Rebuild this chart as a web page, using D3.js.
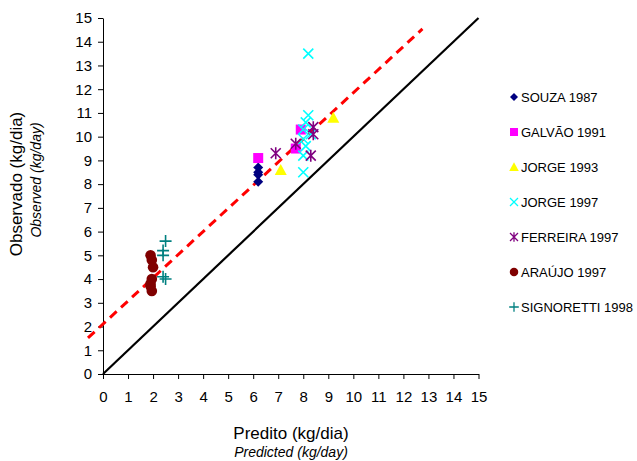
<!DOCTYPE html>
<html>
<head>
<meta charset="utf-8">
<script src="https://cdn.jsdelivr.net/npm/d3@7"></script>
<style>
  body { margin: 0; background: #fff; }
  text { font-family: "Liberation Sans", Arial, sans-serif; }
</style>
</head>
<body>
<div id="root"></div>
<script>
const width = 637, height = 461;
const margin = {top: 18, right: 159, bottom: 87, left: 103};

const ticks = d3.range(0, 16);

// series (x = predicted, y = observed)
const souzaX = [6.2, 6.2, 6.2, 6.2];
const souzaY = [8.1, 8.4, 8.5, 8.7];
const galvaoX = [6.2, 7.9, 7.7];
const galvaoY = [9.1, 10.3, 9.5];
const jorge93X = [7.1, 9.2];
const jorge93Y = [8.6, 10.8];
const jorge97X = [8.2, 8.2, 8.1, 8.0, 8.3, 8.0, 8.1, 8.0, 8.0];
const jorge97Y = [13.5, 10.9, 10.6, 10.3, 10.1, 9.9, 9.6, 9.2, 8.5];
const ferreiraX = [6.9, 7.7, 8.4, 8.4, 8.3];
const ferreiraY = [9.3, 9.7, 10.4, 10.1, 9.2];
const araujoX = [1.9, 1.95, 2.0, 1.95, 1.9, 1.9, 1.95];
const araujoY = [5.0, 4.8, 4.5, 4.0, 3.8, 3.7, 3.5];
const signorettiX = [2.5, 2.4, 2.4, 2.4, 2.5];
const signorettiY = [5.6, 5.2, 5.0, 4.1, 4.0];

const seriesNames = ["SOUZA 1987", "GALVÃO 1991", "JORGE 1993", "JORGE 1997", "FERREIRA 1997", "ARAÚJO 1997", "SIGNORETTI 1998"];
const seriesColors = ["#000080", "#FF00FF", "#FFFF00", "#00FFFF", "#800080", "#800000", "#008080"];
const seriesShapes = ["diamond", "square", "triangle", "x", "star", "circle", "plus"];
const seriesX = [souzaX, galvaoX, jorge93X, jorge97X, ferreiraX, araujoX, signorettiX];
const seriesY = [souzaY, galvaoY, jorge93Y, jorge97Y, ferreiraY, araujoY, signorettiY];

// regression line (dashed) endpoints and 1:1 line
const regX = [-0.6, 12.76];
const regY = [1.52, 14.54];
const oneX = [0, 15];
const oneY = [0, 15];

const svg = d3.select('#root').append('svg')
  .attr('width', width).attr('height', height);

const x = d3.scaleLinear().domain([0, 15]).range([margin.left, width - margin.right + 0.5]);
const y = d3.scaleLinear().domain([0, 15]).range([height - margin.bottom, margin.top]);

const xAxis = svg.append('g')
  .attr('transform', `translate(0,${y(0)})`)
  .call(d3.axisBottom(x).tickValues(ticks).tickSize(5).tickSizeOuter(0).tickPadding(12));
const yAxis = svg.append('g')
  .attr('transform', `translate(${x(0)},0)`)
  .call(d3.axisLeft(y).tickValues(ticks).tickSize(5).tickSizeOuter(0).tickPadding(6));
[xAxis, yAxis].forEach(g => {
  g.selectAll('path,line').attr('stroke', '#000').attr('stroke-width', 1);
  g.selectAll('text').attr('font-size', 15).attr('fill', '#000')
    .attr('font-family', '"Liberation Sans", Arial, sans-serif');
});

const line = d3.line().x(d => x(d[0])).y(d => y(d[1]));
svg.append('path').datum(d3.zip(oneX, oneY)).attr('d', line)
  .attr('stroke', '#000').attr('stroke-width', 2.2).attr('fill', 'none');
svg.append('path').datum(d3.zip(regX, regY)).attr('d', line)
  .attr('stroke', '#FF0000').attr('stroke-width', 3).attr('fill', 'none')
  .attr('stroke-dasharray', '9,6');

function drawMarker(g, shape, color) {
  if (shape === 'diamond') {
    g.append('path').attr('d', 'M0,-5L5,0L0,5L-5,0Z').attr('fill', color);
  } else if (shape === 'square') {
    g.append('rect').attr('x', -5).attr('y', -5).attr('width', 10).attr('height', 10).attr('fill', color);
  } else if (shape === 'triangle') {
    g.append('path').attr('d', 'M0,-6L6,5L-6,5Z').attr('fill', color);
  } else if (shape === 'circle') {
    g.append('circle').attr('r', 5.3).attr('fill', color);
  } else if (shape === 'x') {
    g.append('path').attr('d', 'M-5,-5L5,5M-5,5L5,-5').attr('stroke', color).attr('stroke-width', 1.6);
  } else if (shape === 'star') {
    g.append('path').attr('d', 'M-5,-5L5,5M-5,5L5,-5M0,-6L0,6').attr('stroke', color).attr('stroke-width', 1.6);
  } else if (shape === 'plus') {
    g.append('path').attr('d', 'M-6,0L6,0M0,-6L0,6').attr('stroke', color).attr('stroke-width', 1.6);
  }
}

seriesNames.forEach((name, i) => {
  const pts = d3.zip(seriesX[i], seriesY[i]);
  svg.append('g').selectAll('g').data(pts).enter().append('g')
    .attr('transform', d => `translate(${x(d[0])},${y(d[1])})`)
    .each(function() { drawMarker(d3.select(this), seriesShapes[i], seriesColors[i]); });
});

// legend
const legend = svg.append('g');
seriesNames.forEach((name, i) => {
  const ly = 97 + i * 35;
  const g = legend.append('g').attr('transform', `translate(514,${ly})`);
  const m = g.append('g').attr('transform', 'scale(0.8)');
  drawMarker(m, seriesShapes[i], seriesColors[i]);
  g.append('text').attr('x', 7).attr('y', 4.8).attr('font-size', 13).text(name);
});

// axis titles
svg.append('text').attr('x', 291).attr('y', 439).attr('text-anchor', 'middle')
  .attr('font-size', 17).text('Predito (kg/dia)');
svg.append('text').attr('x', 291).attr('y', 457).attr('text-anchor', 'middle')
  .attr('font-size', 14).attr('font-style', 'italic').text('Predicted (kg/day)');
svg.append('text').attr('transform', 'translate(22,184) rotate(-90)').attr('text-anchor', 'middle')
  .attr('font-size', 17).text('Observado (kg/dia)');
svg.append('text').attr('transform', 'translate(41,180) rotate(-90)').attr('text-anchor', 'middle')
  .attr('font-size', 14).attr('font-style', 'italic').text('Observed (kg/day)');
</script>
</body>
</html>
